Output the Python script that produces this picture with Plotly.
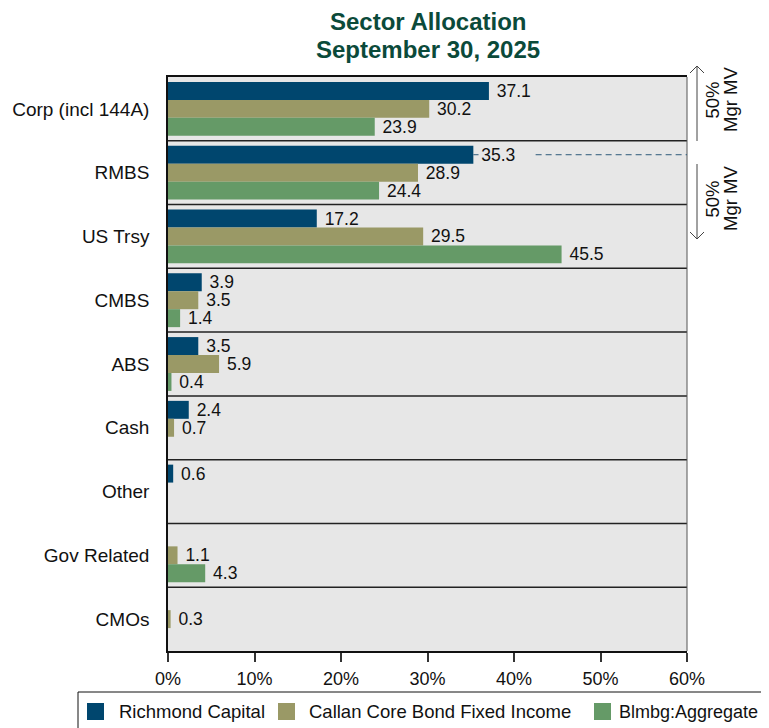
import plotly.graph_objects as go

# ---- data ----
categories = ["Corp (incl 144A)", "RMBS", "US Trsy", "CMBS", "ABS", "Cash", "Other", "Gov Related", "CMOs"]
richmond = [37.1, 35.3, 17.2, 3.9, 3.5, 2.4, 0.6, None, None]
callan = [30.2, 28.9, 29.5, 3.5, 5.9, 0.7, None, 1.1, 0.3]
blmbg = [23.9, 24.4, 45.5, 1.4, 0.4, None, None, 4.3, None]
series_names = ["Richmond Capital", "Callan Core Bond Fixed Income", "Blmbg:Aggregate"]
series_colors = ["#00466E", "#9A9966", "#659A67"]
x_ticks = [0, 10, 20, 30, 40, 50, 60]
x_tick_labels = ["0%", "10%", "20%", "30%", "40%", "50%", "60%"]
title_lines = ["Sector Allocation", "September 30, 2025"]

# ---- layout constants (page pixels; page body has an 8px margin) ----
OFF = 8
WIDTH, HEIGHT = 769 - OFF, 728 - OFF
L, R, T, B = 168 - OFF, 687 - OFF, 77 - OFF, 651 - OFF
PW, PH = R - L, B - T
BARGAP = 0.156
FONT = "Liberation Sans, Arial, sans-serif"


def px(x):
    return (x - OFF - L) / PW


def py(y):
    return (B - (y - OFF)) / PH


def lbl(v):
    return "" if v is None else "\u00a0" + f"{v:.1f}"


fig = go.Figure()
for name, vals, col in zip(series_names, [richmond, callan, blmbg], series_colors):
    fig.add_trace(go.Bar(
        y=categories, x=vals, orientation="h", name=name, showlegend=False,
        marker=dict(color=col, line=dict(width=0)),
        text=[lbl(v) for v in vals], textposition="outside",
        textfont=dict(family=FONT, size=17.5, color="#111111"),
        constraintext="none", cliponaxis=False,
    ))

shapes = []
annotations = []
# category separators
for k in range(len(categories) - 1):
    shapes.append(dict(type="line", xref="paper", yref="y", x0=0, x1=1,
                       y0=k + 0.5, y1=k + 0.5,
                       line=dict(color="#222222", width=1.5), layer="below"))
# right border
shapes.append(dict(type="line", xref="paper", yref="paper", x0=1, x1=1, y0=0, y1=1,
                   line=dict(color="#555555", width=1)))
# dashed 50% marker at RMBS Richmond bar
w = (1 - BARGAP) / 3
yd = 1 - w
shapes.append(dict(type="line", xref="x", yref="y", x0=richmond[1], x1=richmond[1] + 0.6,
                   y0=yd, y1=yd, line=dict(color="#2F5A7A", width=1)))
shapes.append(dict(type="line", xref="x", yref="y", x0=42.5, x1=60, y0=yd, y1=yd,
                   line=dict(color="#2F5A7A", width=1, dash="6px,4px")))
# arrows on the right
ax_x = 697
for (y_tip, y_end, d) in [(66, 141, 1), (239, 164, -1)]:
    shapes.append(dict(type="line", xref="paper", yref="paper",
                       x0=px(ax_x), x1=px(ax_x), y0=py(y_tip), y1=py(y_end),
                       line=dict(color="#444444", width=1)))
    shapes.append(dict(type="path", xref="paper", yref="paper",
                       path=f"M {px(ax_x-7)} {py(y_tip + 7*d)} L {px(ax_x)} {py(y_tip)} L {px(ax_x+7)} {py(y_tip + 7*d)}",
                       line=dict(color="#444444", width=1)))

for yc in [100, 199]:
    for xc, t in [(711.5, "50%"), (730, "Mgr MV")]:
        annotations.append(dict(xref="paper", yref="paper", x=px(xc), y=py(yc),
                                text=t, showarrow=False, textangle=-90,
                                font=dict(family=FONT, size=18.5, color="#111111"),
                                xanchor="center", yanchor="middle"))
# title (two lines placed individually)
for yc, t in zip([21.5, 49.5], title_lines):
    annotations.append(dict(xref="paper", yref="paper", x=0.5, y=py(yc),
                            text=f"<b>{t}</b>", showarrow=False, borderpad=0,
                            xanchor="center", yanchor="middle",
                            font=dict(family=FONT, size=24, color="#0B4A3A")))

# legend drawn as box + swatches + labels (single row, no wrapping)
shapes.append(dict(type="rect", xref="paper", yref="paper",
                   x0=px(78), x1=px(790), y0=py(692), y1=py(740),
                   line=dict(color="#111111", width=1), fillcolor="white"))
swatch_x = [87, 278, 594]
text_x = [118, 308, 618]
legend_sizes = [18.5, 18.5, 18]
for sx, tx, fs, name, col in zip(swatch_x, text_x, legend_sizes, series_names, series_colors):
    shapes.append(dict(type="rect", xref="paper", yref="paper",
                       x0=px(sx), x1=px(sx + 17), y0=py(703), y1=py(720),
                       line=dict(width=0), fillcolor=col))
    annotations.append(dict(xref="paper", yref="paper", x=px(tx), y=py(711.5),
                            text=name, showarrow=False, borderpad=0,
                            xanchor="left", yanchor="middle",
                            font=dict(family=FONT, size=fs, color="#111111")))

fig.update_layout(
    width=WIDTH, height=HEIGHT,
    margin=dict(l=L, r=WIDTH - R, t=T, b=HEIGHT - B, autoexpand=False),
    paper_bgcolor="white", plot_bgcolor="#E7E7E7",
    barmode="group", bargap=BARGAP, bargroupgap=0,
    font=dict(family=FONT, size=18, color="#111111"),
    showlegend=False,
    xaxis=dict(range=[0, 60], tickvals=x_ticks, ticktext=x_tick_labels,
               showgrid=False, zeroline=False, showline=True, linecolor="#111111",
               linewidth=1.5, mirror=True, ticks="outside", ticklen=9, tickwidth=1.5,
               tickcolor="#333333", ticklabelstandoff=2,
               tickfont=dict(family=FONT, size=18, color="#111111"),
               fixedrange=True),
    yaxis=dict(type="category", categoryorder="array", categoryarray=categories,
               range=[len(categories) - 0.5, -0.5], showgrid=False, zeroline=False,
               showline=True, linecolor="#111111", linewidth=1.5, ticks="",
               ticklabelstandoff=13, tickfont=dict(family=FONT, size=19, color="#111111")),
    shapes=shapes, annotations=annotations,
)

fig.write_html("out.html")
